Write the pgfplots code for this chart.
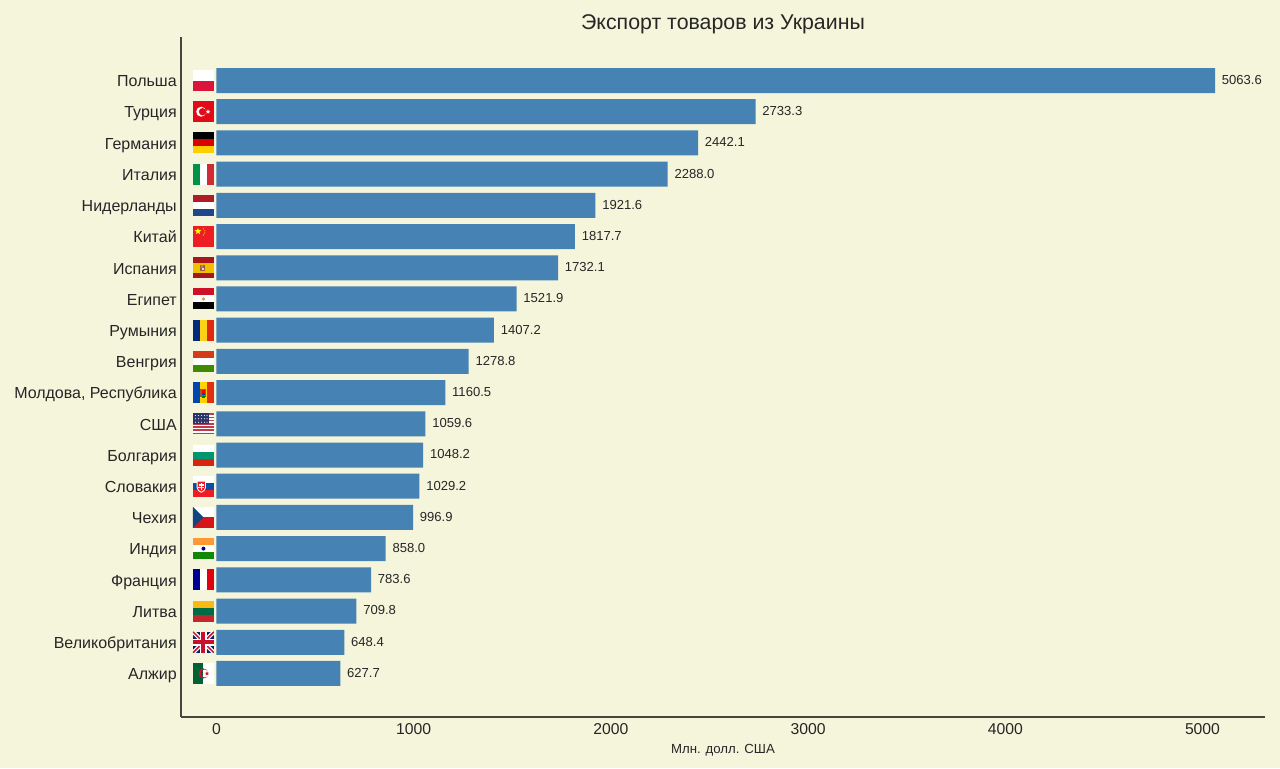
\documentclass[border=0pt]{standalone}
\usepackage{pgfplots}
\pgfplotsset{compat=1.18}
\usepackage{fontspec}
\setmainfont{Liberation Sans}
\usetikzlibrary{shapes.geometric}

\definecolor{bg}{HTML}{F5F5DC}
\definecolor{barblue}{HTML}{4682B4}
\definecolor{spine}{HTML}{46463F}
\definecolor{txt}{HTML}{262626}
% flag colours
\definecolor{plred}{HTML}{DC143C}
\definecolor{trred}{HTML}{E30A17}
\definecolor{dered}{HTML}{DD0000}
\definecolor{degold}{HTML}{FFCE00}
\definecolor{itgreen}{HTML}{009246}
\definecolor{itred}{HTML}{CE2B37}
\definecolor{nlred}{HTML}{AE1C28}
\definecolor{nlblue}{HTML}{21468B}
\definecolor{cnred}{HTML}{EE1C25}
\definecolor{cnyel}{HTML}{FFFF00}
\definecolor{esred}{HTML}{AA151B}
\definecolor{esyel}{HTML}{F1BF00}
\definecolor{egred}{HTML}{CE1126}
\definecolor{egold}{HTML}{C9A85A}
\definecolor{roblue}{HTML}{002B7F}
\definecolor{royel}{HTML}{FCD116}
\definecolor{rored}{HTML}{E02A10}
\definecolor{hured}{HTML}{D63A1A}
\definecolor{hugreen}{HTML}{3F8A00}
\definecolor{mdblue}{HTML}{0046AE}
\definecolor{mdyel}{HTML}{FFD200}
\definecolor{mdred}{HTML}{E03010}
\definecolor{usred}{HTML}{BF3A4A}
\definecolor{usblue}{HTML}{2A3468}
\definecolor{bggreen}{HTML}{00966E}
\definecolor{bgred}{HTML}{D62612}
\definecolor{skblue}{HTML}{0B4EA2}
\definecolor{skred}{HTML}{EE1C25}
\definecolor{czred}{HTML}{D7141A}
\definecolor{czblue}{HTML}{11457E}
\definecolor{insaf}{HTML}{FF9933}
\definecolor{ingreen}{HTML}{138808}
\definecolor{innavy}{HTML}{000080}
\definecolor{frblue}{HTML}{000091}
\definecolor{frred}{HTML}{E1000F}
\definecolor{ltyel}{HTML}{FDB913}
\definecolor{ltgreen}{HTML}{006A44}
\definecolor{ltred}{HTML}{C1272D}
\definecolor{ukblue}{HTML}{012169}
\definecolor{ukred}{HTML}{C8102E}
\definecolor{dzgreen}{HTML}{006233}
\definecolor{dzred}{HTML}{D21034}

% flag helpers, local units are reference pixels, flag is 21x21
\newcommand{\fr}[5]{\fill[#5] (#1,#2) rectangle (#3,#4);}
\newcommand{\hflag}[3]{\fr{0}{0}{21}{7}{#1}\fr{0}{7}{21}{14}{#2}\fr{0}{14}{21}{21}{#3}}
\newcommand{\vflag}[3]{\fr{0}{0}{7}{21}{#1}\fr{7}{0}{14}{21}{#2}\fr{14}{0}{21}{21}{#3}}
\newenvironment{flag}[1]{\begin{scope}[shift={(f#1)},x=0.75pt,y=-0.75pt]}{\end{scope}}
\newcommand{\fstar}[4]{\node[star,star points=5,star point ratio=2.4,fill=#4,draw=none,inner sep=0pt,minimum size=#3*0.75pt] at (#1,#2) {};}

\begin{document}
\begin{tikzpicture}
\fill[bg,use as bounding box] (-135.75pt,-38.25pt) rectangle (824.25pt,537.75pt);
\begin{axis}[
    at={(0pt,0pt)}, anchor=south west,
    scale only axis,
    width=813pt,
    height=510pt,
    xmin=-180, xmax=5317,
    ymin=-1.394, ymax=20.394,
    axis x line*=bottom,
    axis y line*=left,
    axis line style={draw=spine,line width=1.5pt,-},
    xtick={0,1000,2000,3000,4000,5000},
    ytick={0,...,19},
    yticklabels={Алжир,Великобритания,Литва,Франция,Индия,Чехия,Словакия,Болгария,США,{Молдова, Республика},Венгрия,Румыния,Египет,Испания,Китай,Нидерланды,Италия,Германия,Турция,Польша},
    major tick length=0pt,
    x tick label style={font=\fontsize{11.8pt}{13pt}\selectfont,text=txt,yshift=-1pt},
    y tick label style={font=\fontsize{12pt}{13pt}\selectfont,text=txt,xshift=0.3pt,yshift=-1.6pt,text height=8.6pt,text depth=2.4pt},
    /pgf/number format/assume math mode=true,
    /pgf/number format/1000 sep={},
    title={Экспорт товаров из Украины},
    title style={font=\fontsize{16pt}{18pt}\selectfont,text=txt,at={(0.5,1)},anchor=center,yshift=3.5pt,inner sep=0pt},
    xlabel={Млн. долл. США},
    xlabel style={font=\fontsize{9.9pt}{11pt}\selectfont,text=txt,at={(0.5,0)},anchor=center,yshift=-25pt,inner sep=0pt},
    xbar,
    bar shift=0pt,
    bar width=18.75pt,
    nodes near coords,
    nodes near coords style={font=\fontsize{9.8pt}{12pt}\selectfont,text=txt,
        /pgf/number format/fixed,/pgf/number format/fixed zerofill,/pgf/number format/precision=1,
        /pgf/number format/1000 sep={},anchor=west,xshift=1.6pt,yshift=0.6pt,text height=7pt,text depth=0pt},
    clip=false,
]
\addplot[fill=barblue,draw=none] coordinates {
    (627.7,0) (648.4,1) (709.8,2) (783.6,3) (858.0,4)
    (996.9,5) (1029.2,6) (1048.2,7) (1059.6,8) (1160.5,9)
    (1278.8,10) (1407.2,11) (1521.9,12) (1732.1,13) (1817.7,14)
    (1921.6,15) (2288.0,16) (2442.1,17) (2733.3,18) (5063.6,19)
};
\pgfplotsinvokeforeach{0,...,19}{\coordinate (f#1) at (axis cs:-119.2,#1+0.3365);}
\end{axis}

% Польша
\begin{flag}{19}\fr{0}{0}{21}{10.5}{white}\fr{0}{10.5}{21}{21}{plred}\end{flag}
% Турция
\begin{flag}{18}\fr{0}{0}{21}{21}{trred}
\fill[white] (8.2,10.5) circle (5);
\fill[trred] (9.6,10.5) circle (3.7);
\fstar{15}{10.5}{5}{white}\end{flag}
% Германия
\begin{flag}{17}\hflag{black}{dered}{degold}\end{flag}
% Италия
\begin{flag}{16}\vflag{itgreen}{white}{itred}\end{flag}
% Нидерланды
\begin{flag}{15}\hflag{nlred}{white}{nlblue}\end{flag}
% Китай
\begin{flag}{14}\fr{0}{0}{21}{21}{cnred}
\fstar{5}{5.3}{7}{cnyel}\fill[cnyel] (10.5,2.8) circle (0.6) (11.8,4.8) circle (0.6) (11.8,7) circle (0.6) (10.5,9) circle (0.6);\end{flag}
% Испания
\begin{flag}{13}\fr{0}{0}{21}{21}{esred}\fr{0}{5.25}{21}{15.75}{esyel}
\fr{7.5}{7.5}{12}{13.5}{brown!80!black}\fr{8.3}{8}{10.5}{10.8}{esred!60!white}\fr{9}{10.8}{11.5}{13}{white!70!gray}\end{flag}
% Египет
\begin{flag}{12}\hflag{egred}{white}{black}\fill[egold] (10.5,10.5) circle (1.9);\end{flag}
% Румыния
\begin{flag}{11}\vflag{roblue}{royel}{rored}\end{flag}
% Венгрия
\begin{flag}{10}\hflag{hured}{white}{hugreen}\end{flag}
% Молдова
\begin{flag}{9}\vflag{mdblue}{mdyel}{mdred}
\fr{7.5}{6.5}{13.5}{15}{brown!75!black}\fr{8.8}{8}{12.2}{10.5}{red}\fr{8.8}{10.5}{12.2}{12.5}{mdblue}\fr{9}{14}{12}{15.5}{green!50!black}\end{flag}
% США
\begin{flag}{8}\fr{0}{0}{21}{21}{white}
\foreach \s in {0,2,...,12}{\fill[usred] (0,\s*1.615) rectangle (21,\s*1.615+1.615);}
\fr{0}{0}{16}{11}{usblue}
\foreach \a in {2.5,5.5,8.5,11.5,14}{\foreach \b in {2.2,5.5,9}{\fill[white!85!blue] (\a,\b) circle (0.65);}}\end{flag}
% Болгария
\begin{flag}{7}\hflag{white}{bggreen}{bgred}\end{flag}
% Словакия
\begin{flag}{6}\hflag{white}{skblue}{skred}
\fill[white] (3.7,5) -- (13,5) -- (13,12) .. controls (13,15) and (10,16) .. (8.3,17) .. controls (6.5,16) and (3.7,15) .. (3.7,12) -- cycle;
\fill[skred] (4.7,6) -- (12,6) -- (12,12) .. controls (12,14) and (10,15) .. (8.3,15.8) .. controls (6.5,15) and (4.7,14) .. (4.7,12) -- cycle;
\fr{7.7}{7}{9}{14}{white}\fr{6}{8.7}{10.7}{9.8}{white}\fr{5.5}{10.8}{11.2}{12}{white}\end{flag}
% Чехия
\begin{flag}{5}\fr{0}{0}{21}{10.5}{white}\fr{0}{10.5}{21}{21}{czred}
\fill[czblue] (0,0) -- (10.5,10.5) -- (0,21) -- cycle;\end{flag}
% Индия
\begin{flag}{4}\hflag{insaf}{white}{ingreen}\fill[innavy] (10.5,10.5) circle (2);\end{flag}
% Франция
\begin{flag}{3}\vflag{frblue}{white}{frred}\end{flag}
% Литва
\begin{flag}{2}\hflag{ltyel}{ltgreen}{ltred}\end{flag}
% Великобритания
\begin{flag}{1}\begin{scope}
\clip (0,0) rectangle (21,21);
\fr{0}{0}{21}{21}{ukblue}
\draw[white,line width=3pt] (0,0) -- (21,21) (21,0) -- (0,21);
\draw[ukred,line width=1.1pt] (0,0) -- (21,21) (21,0) -- (0,21);
\fr{7}{0}{14}{21}{white}\fr{0}{7}{21}{14}{white}
\fr{8.5}{0}{12.5}{21}{ukred}\fr{0}{8.5}{21}{12.5}{ukred}
\end{scope}\end{flag}
% Алжир
\begin{flag}{0}\fr{0}{0}{10.5}{21}{dzgreen}\fr{10.5}{0}{21}{21}{white}
\fill[dzred] (10.5,10.5) circle (5);
\begin{scope}\clip (11.8,10.5) circle (3.9);
\fr{0}{0}{10.5}{21}{dzgreen}\fr{10.5}{0}{21}{21}{white}\end{scope}
\fstar{14}{10.5}{4.5}{dzred}\end{flag}
\end{tikzpicture}
\end{document}
